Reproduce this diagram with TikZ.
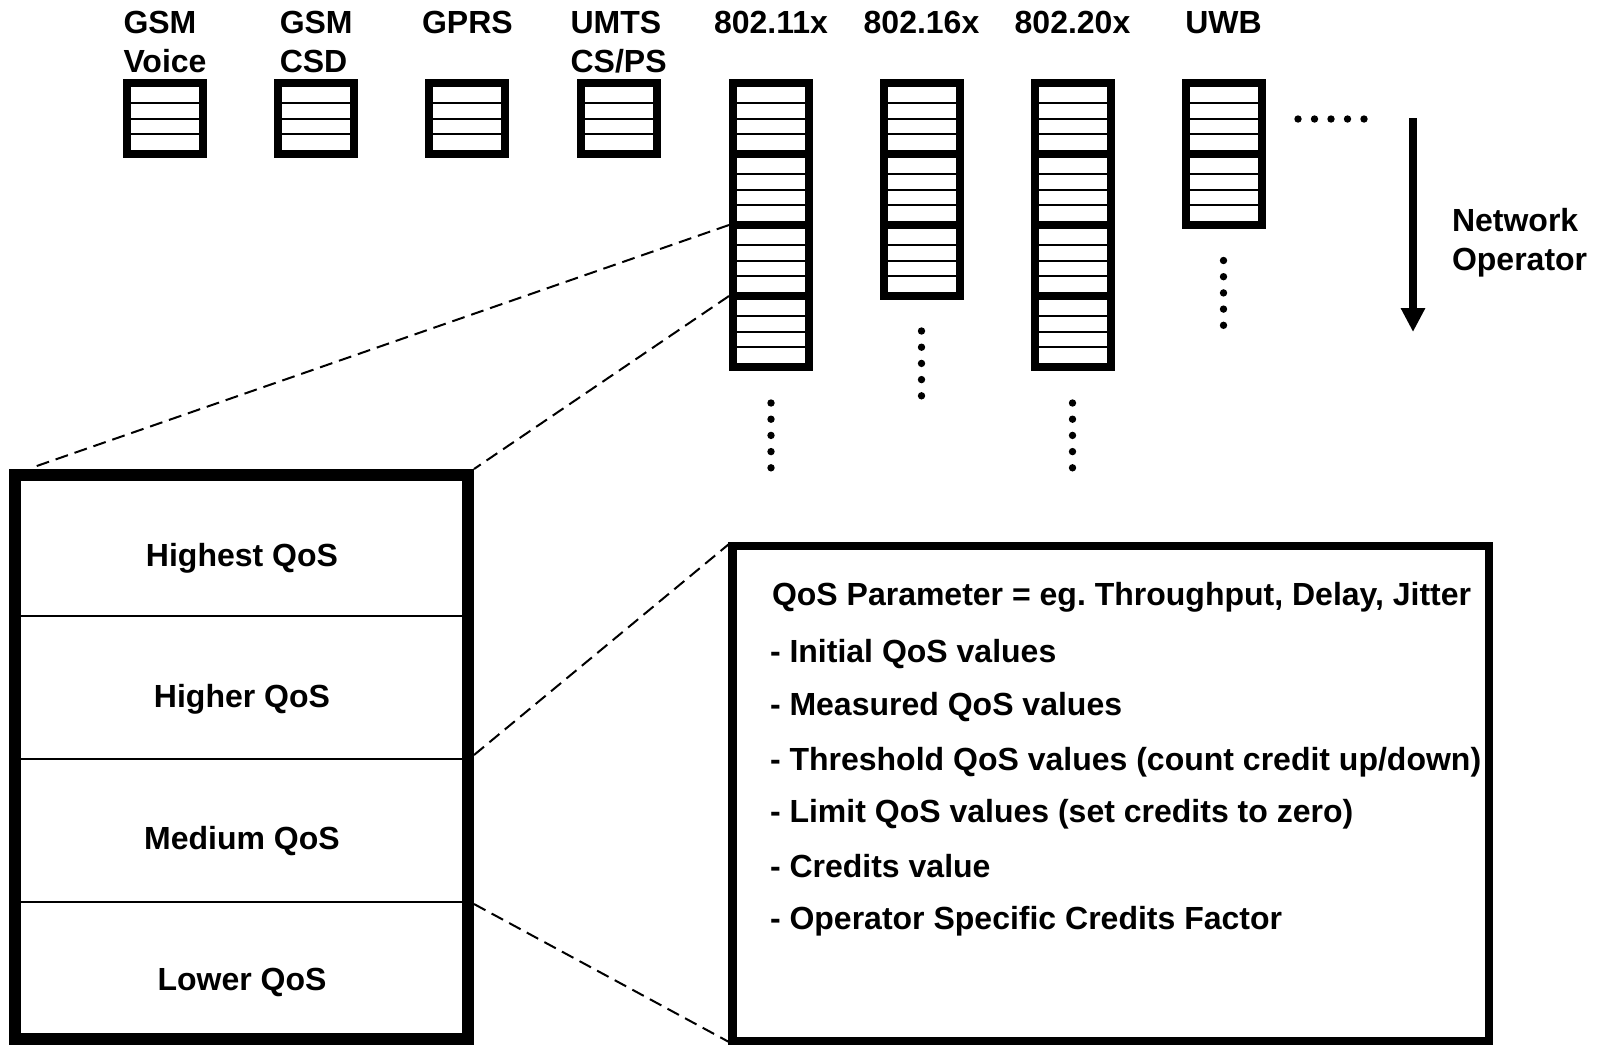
\documentclass[tikz,border=0pt]{standalone}
\usepackage{fontspec}
\setmainfont{Liberation Sans}
\usetikzlibrary{arrows.meta}
\frenchspacing

\tikzset{
  txt/.style={font=\fontsize{32}{39}\selectfont\bfseries, inner sep=0pt, outer sep=0pt},
  lbl/.style={txt, anchor=base},
  item/.style={txt, anchor=base west},
  frame/.style={line width=8pt},
  rowline/.style={line width=2pt},
  zoomline/.style={line width=2pt, dash pattern=on 13pt off 7pt},
  dotmark/.style={fill=black},
}

\begin{document}
\begin{tikzpicture}[x=1pt, y=-1pt]
\useasboundingbox (0,0) rectangle (1608,1045);

% ---- queue stacks: centre x / number of blocks ----
\foreach \cx/\n in {165/1, 316.2/1, 467.4/1, 618.6/1, 771/4, 921.5/3, 1072.5/4, 1223.5/2} {
  \foreach \j in {1,...,\n} {
    \pgfmathsetmacro\t{79+71*(\j-1)}
    \foreach \k in {1,2,3}
      \draw[rowline] (\cx-38, \t+8+15.75*\k) -- (\cx+38, \t+8+15.75*\k);
    \draw[frame] (\cx-38, \t+4) rectangle (\cx+38, \t+75);
  }
}

% ---- column labels ----
\node[lbl] (l-gsmv) at (165,33)   {\begin{tabular}[t]{@{}l@{}}GSM\\Voice\end{tabular}};
\node[lbl] (l-gsmc) at (316.2,33) {\begin{tabular}[t]{@{}l@{}}GSM\\CSD\end{tabular}};
\node[lbl] (l-gprs) at (467.4,33) {GPRS};
\node[lbl] (l-umts) at (618.6,33) {\begin{tabular}[t]{@{}l@{}}UMTS\\CS/PS\end{tabular}};
\node[lbl] (l-w11)  at (771,33)   {802.11x};
\node[lbl] (l-w16)  at (921.5,33) {802.16x};
\node[lbl] (l-w20)  at (1072.5,33){802.20x};
\node[lbl] (l-uwb)  at (1223.5,33){UWB};

% ---- continuation dots ----
\foreach \i in {0,...,4} {
  \fill[dotmark] (1298+16.5*\i,119) circle (3.7);
  \fill[dotmark] (771,403+16.2*\i) circle (3.7);
  \fill[dotmark] (921.5,331+16.2*\i) circle (3.7);
  \fill[dotmark] (1072.5,403+16.2*\i) circle (3.7);
  \fill[dotmark] (1223.5,260.5+16.2*\i) circle (3.7);
}

% ---- operator arrow ----
\coordinate (arrtop) at (1413,118);
\coordinate (arrtip) at (1413,332);
\draw[line width=8pt, -{Triangle[length=24pt,width=23pt]}] (arrtop) -- (arrtip);
\node[item] (l-oper) at (1452,231) {\begin{tabular}[t]{@{}l@{}}Network\\Operator\end{tabular}};

% ---- QoS class box ----
\node[draw, line width=12pt, minimum width=453.5pt, minimum height=564.5pt,
      inner sep=0pt, outer sep=0pt] (qbox) at (241.25,756.75) {};
\draw[rowline] (20,616.3) -- (462.5,616.3);
\draw[rowline] (20,759) -- (462.5,759);
\draw[rowline] (20,901.5) -- (462.5,901.5);
\node[lbl] (q1) at (242,566)   {Highest QoS};
\node[lbl] (q2) at (242,707.5) {Higher QoS};
\node[lbl] (q3) at (242,849)   {Medium QoS};
\node[lbl] (q4) at (242,990.5) {Lower QoS};

% ---- parameter box ----
\node[draw, line width=8.5pt, minimum width=756.5pt, minimum height=495pt,
      inner sep=0pt, outer sep=0pt] (pbox) at (1110.75,793.5) {};
\node[item] (p0) at (772,605.7) {QoS Parameter = eg. Throughput, Delay, Jitter};
\node[item] (p1) at (770,662)   {- Initial QoS values};
\node[item] (p2) at (770,715.5) {- Measured QoS values};
\node[item] (p3) at (770,770)   {- Threshold QoS values (count credit up/down)};
\node[item] (p4) at (770,822)   {- Limit QoS values (set credits to zero)};
\node[item] (p5) at (770,877.5) {- Credits value};
\node[item] (p6) at (770,929)   {- Operator Specific Credits Factor};

% ---- zoom connectors ----
\coordinate (s11a) at (729,225);
\coordinate (s11b) at (729,296);
\coordinate (qtl)  at (31,468);
\coordinate (qtr)  at (474,469);
\coordinate (qm)   at (474,755);
\coordinate (ql)   at (474,904);
\coordinate (ptl)  at (729,544);
\coordinate (pbl)  at (729,1042);
\draw[zoomline] (s11a) -- (qtl);
\draw[zoomline] (s11b) -- (qtr);
\draw[zoomline] (qm) -- (ptl);
\draw[zoomline] (ql) -- (pbl);
\end{tikzpicture}
\end{document}
